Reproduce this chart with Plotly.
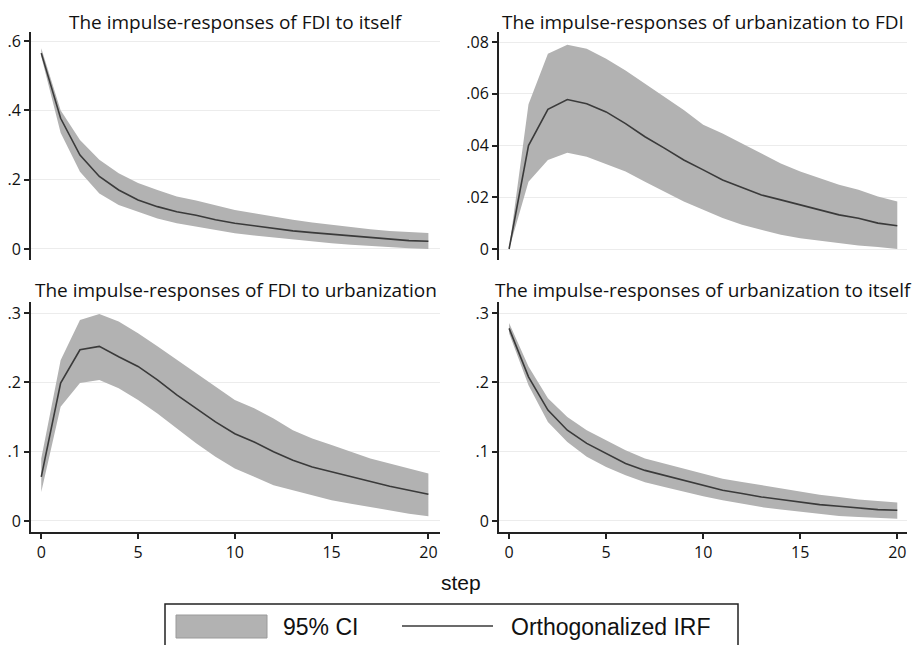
import plotly.graph_objects as go

steps = list(range(21))

# Panel 1: FDI -> FDI
irf_fdi_fdi = [0.565, 0.377, 0.271, 0.209, 0.170, 0.141, 0.122, 0.107, 0.097, 0.084, 0.074,
               0.066, 0.058, 0.052, 0.047, 0.042, 0.037, 0.033, 0.028, 0.024, 0.022]
up_fdi_fdi = [0.579, 0.400, 0.314, 0.257, 0.218, 0.190, 0.170, 0.151, 0.140, 0.125, 0.112,
              0.103, 0.093, 0.084, 0.076, 0.069, 0.063, 0.057, 0.052, 0.048, 0.046]
lo_fdi_fdi = [0.555, 0.335, 0.223, 0.160, 0.127, 0.108, 0.088, 0.074, 0.064, 0.055, 0.045,
              0.039, 0.033, 0.026, 0.020, 0.016, 0.012, 0.008, 0.004, 0.002, 0.000]

# Panel 2: FDI -> urbanization
irf_urb_fdi = [0.0, 0.0400, 0.0540, 0.0578, 0.0562, 0.0530, 0.0485, 0.0434, 0.0390, 0.0344, 0.0306,
               0.0267, 0.0238, 0.0209, 0.0190, 0.0171, 0.0152, 0.0132, 0.0119, 0.0100, 0.0090]
up_urb_fdi = [0.0, 0.0560, 0.0755, 0.0790, 0.0774, 0.0736, 0.0690, 0.0640, 0.0588, 0.0537, 0.0480,
              0.0447, 0.0408, 0.0370, 0.0331, 0.0300, 0.0274, 0.0248, 0.0229, 0.0203, 0.0184]
lo_urb_fdi = [0.0, 0.0260, 0.0344, 0.0372, 0.0357, 0.0330, 0.0300, 0.0260, 0.0222, 0.0184, 0.0152,
              0.0120, 0.0094, 0.0074, 0.0055, 0.0042, 0.0033, 0.0023, 0.0014, 0.0008, 0.0000]

# Panel 3: urbanization -> FDI
irf_fdi_urb = [0.0637, 0.199, 0.247, 0.252, 0.237, 0.223, 0.2036, 0.182, 0.1626, 0.143, 0.126,
               0.114, 0.0999, 0.0878, 0.078, 0.071, 0.0637, 0.0564, 0.050, 0.0444, 0.0386]
up_fdi_urb = [0.090, 0.232, 0.290, 0.2986, 0.288, 0.271, 0.252, 0.2325, 0.213, 0.194, 0.1746,
              0.1626, 0.148, 0.131, 0.119, 0.1095, 0.0999, 0.090, 0.083, 0.0757, 0.0685]
lo_fdi_urb = [0.042, 0.165, 0.199, 0.2036, 0.1915, 0.1746, 0.155, 0.1336, 0.112, 0.0926, 0.0757,
              0.0637, 0.0516, 0.0444, 0.037, 0.030, 0.025, 0.020, 0.0154, 0.0106, 0.0068]

# Panel 4: urbanization -> urbanization
irf_urb_urb = [0.278, 0.208, 0.160, 0.131, 0.112, 0.0974, 0.083, 0.073, 0.066, 0.0589, 0.0516,
               0.0444, 0.0396, 0.0347, 0.031, 0.0275, 0.0236, 0.0212, 0.0188, 0.0164, 0.0154]
up_urb_urb = [0.2856, 0.223, 0.177, 0.150, 0.131, 0.117, 0.102, 0.090, 0.083, 0.0757, 0.0685,
              0.061, 0.0564, 0.0516, 0.0468, 0.042, 0.038, 0.0347, 0.031, 0.029, 0.0265]
lo_urb_urb = [0.271, 0.196, 0.143, 0.114, 0.0926, 0.078, 0.066, 0.056, 0.049, 0.042, 0.0357,
              0.030, 0.025, 0.020, 0.0164, 0.013, 0.0096, 0.0072, 0.0058, 0.0043, 0.0034]

titles = ["The impulse-responses of FDI to itself",
          "The impulse-responses of urbanization to FDI",
          "The impulse-responses of FDI to urbanization",
          "The impulse-responses of urbanization to itself"]

xticks = [0, 5, 10, 15, 20]
yt1_vals = [0, 0.2, 0.4, 0.6]
yt1_text = ["0", ".2", ".4", ".6"]
yt2_vals = [0, 0.02, 0.04, 0.06, 0.08]
yt2_text = ["0", ".02", ".04", ".06", ".08"]
yt3_vals = [0, 0.1, 0.2, 0.3]
yt3_text = ["0", ".1", ".2", ".3"]

legend_labels = ["95% CI", "Orthogonalized IRF"]
xaxis_title = "step"

W, H = 921, 645
OFF = 8  # the page body adds an 8px margin; place everything relative to the window


def PX(x):
    return (x - OFF) / W


def PY(y):
    return 1 - (y - OFF) / H


BAND = "#b2b2b2"
LINE = "#3a3a3a"
AX = "#222222"
GRID = "#ececec"
TICKFONT = dict(family="Open Sans, Noto Sans, sans-serif", size=16, color="#111111")
TITLEFONT = dict(family="Open Sans, Noto Sans, sans-serif", size=19, color="#111111")
ARIAL = "Liberation Sans, Arial, sans-serif"

panels = [
    dict(irf=irf_fdi_fdi, up=up_fdi_fdi, lo=lo_fdi_fdi, px=(31, 440), py=(32, 260),
         yr=[-0.032, 0.626], yv=yt1_vals, yt=yt1_text, xr=[-0.53, 20.6], bottom=False),
    dict(irf=irf_urb_fdi, up=up_urb_fdi, lo=lo_urb_fdi, px=(499, 907), py=(32, 260),
         yr=[-0.00425, 0.0839], yv=yt2_vals, yt=yt2_text, xr=[-0.52, 20.5], bottom=False),
    dict(irf=irf_fdi_urb, up=up_fdi_urb, lo=lo_fdi_urb, px=(31, 440), py=(302, 532),
         yr=[-0.0159, 0.316], yv=yt3_vals, yt=yt3_text, xr=[-0.53, 20.6], bottom=True),
    dict(irf=irf_urb_urb, up=up_urb_urb, lo=lo_urb_urb, px=(499, 907), py=(302, 532),
         yr=[-0.0159, 0.316], yv=yt3_vals, yt=yt3_text, xr=[-0.52, 20.5], bottom=True),
]

fig = go.Figure()
layout = dict(width=W, height=H, margin=dict(l=0, r=0, t=0, b=0, pad=0, autoexpand=False),
              paper_bgcolor="white", plot_bgcolor="white", showlegend=False)
annotations = []
for i, p in enumerate(panels, start=1):
    xa = "x" if i == 1 else f"x{i}"
    ya = "y" if i == 1 else f"y{i}"
    fig.add_trace(go.Scatter(x=steps, y=p["lo"], mode="lines", line=dict(width=0, color=BAND),
                             xaxis=xa, yaxis=ya, hoverinfo="skip", name=legend_labels[0],
                             showlegend=False))
    fig.add_trace(go.Scatter(x=steps, y=p["up"], mode="lines", line=dict(width=0, color=BAND),
                             fill="tonexty", fillcolor=BAND, xaxis=xa, yaxis=ya,
                             name=legend_labels[0], showlegend=False))
    fig.add_trace(go.Scatter(x=steps, y=p["irf"], mode="lines", line=dict(width=1.6, color=LINE),
                             xaxis=xa, yaxis=ya, name=legend_labels[1], showlegend=False))
    xd = [PX(p["px"][0]), PX(p["px"][1])]
    yd = [PY(p["py"][1]), PY(p["py"][0])]
    xkey = "xaxis" if i == 1 else f"xaxis{i}"
    ykey = "yaxis" if i == 1 else f"yaxis{i}"
    layout[xkey] = dict(domain=xd, range=p["xr"], anchor=ya, showgrid=False, zeroline=False,
                        automargin=False,
                        showline=p["bottom"], linecolor=AX, linewidth=2,
                        ticks="outside" if p["bottom"] else "", ticklen=5, tickwidth=1.5,
                        tickcolor=AX, tickvals=xticks, showticklabels=p["bottom"],
                        tickfont=TICKFONT)
    layout[ykey] = dict(domain=yd, range=p["yr"], anchor=xa, showgrid=True, gridcolor=GRID,
                        automargin=False,
                        gridwidth=1, zeroline=False, showline=True, linecolor=AX, linewidth=2,
                        ticks="outside", ticklen=5, tickwidth=1.5, tickcolor=AX,
                        tickvals=p["yv"], ticktext=p["yt"], tickfont=TICKFONT)
    cx = (p["px"][0] + p["px"][1]) / 2
    ty = 22 if p["py"][0] < 100 else 290
    annotations.append(dict(text=titles[i - 1], x=PX(cx), y=PY(ty), xref="paper", yref="paper",
                            showarrow=False, xanchor="center", yanchor="middle",
                            font=TITLEFONT))

annotations.append(dict(text=xaxis_title, x=PX(461), y=PY(582), xref="paper", yref="paper",
                        showarrow=False, xanchor="center", yanchor="middle",
                        font=dict(family=ARIAL, size=21, color="#111111")))
# legend box (manual, matching the Stata style)
shapes = [
    dict(type="rect", xref="paper", yref="paper", x0=PX(165), x1=PX(738),
         y0=PY(670), y1=PY(604), line=dict(color="#222222", width=1.5),
         fillcolor="rgba(0,0,0,0)"),
    dict(type="rect", xref="paper", yref="paper", x0=PX(176), x1=PX(267),
         y0=PY(638), y1=PY(615), line=dict(color="#9a9a9a", width=1),
         fillcolor=BAND),
    dict(type="line", xref="paper", yref="paper", x0=PX(402), x1=PX(493),
         y0=PY(626), y1=PY(626), line=dict(color=LINE, width=1.5)),
]
annotations.append(dict(text=legend_labels[0], x=PX(281), y=PY(627), xref="paper",
                        yref="paper", showarrow=False, xanchor="left", yanchor="middle",
                        font=dict(family=ARIAL, size=23, color="#111111")))
annotations.append(dict(text=legend_labels[1], x=PX(509), y=PY(627), xref="paper",
                        yref="paper", showarrow=False, xanchor="left", yanchor="middle",
                        font=dict(family=ARIAL, size=23, color="#111111")))
layout["annotations"] = annotations
layout["shapes"] = shapes
fig.update_layout(**layout)
fig.write_html("out.html")
